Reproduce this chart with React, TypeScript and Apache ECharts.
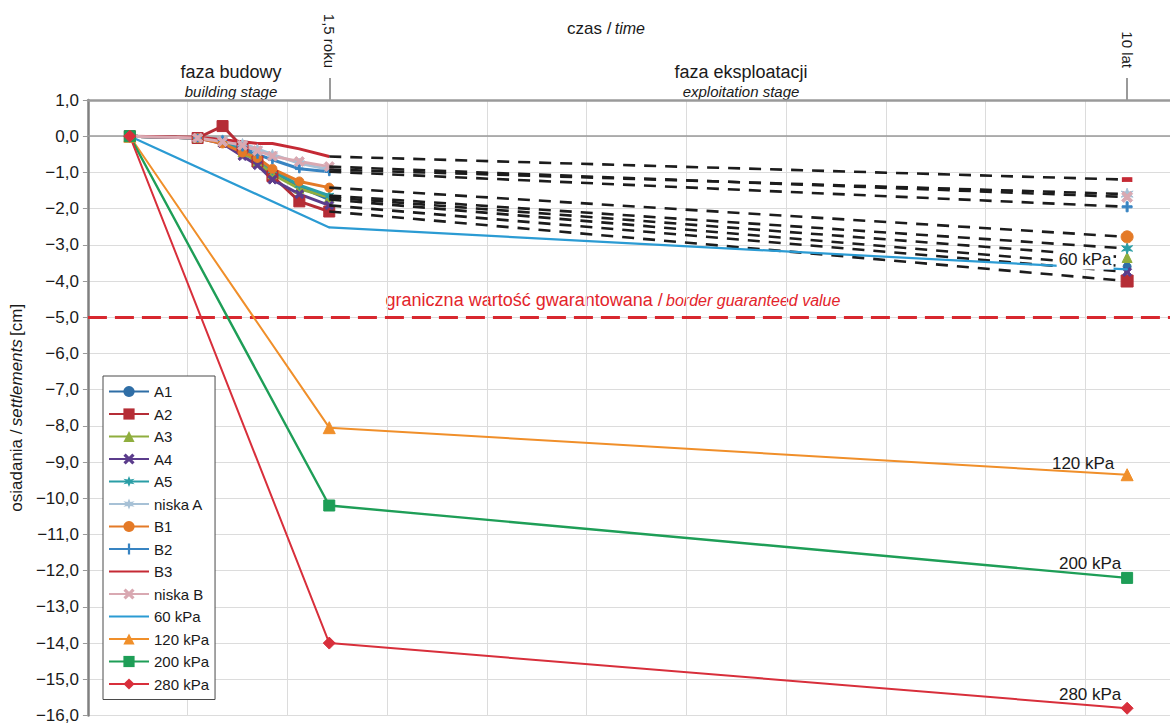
import React, { useEffect, useRef } from 'react';
import * as echarts from 'echarts';

// ---- data ----
// time axis positions (chart units): start, building-stage measurement times, 1,5 roku, 10 lat
const buildTimes = [0.42, 1.1, 1.35, 1.55, 1.7, 1.85, 2.12, 2.42];
const endTime = 10.42;
const stageTicks = [2.42, 10.42];
const stageTickLabels = ['1,5 roku', '10 lat'];

const measuredNames = ['A1', 'A2', 'A3', 'A4', 'A5', 'niska A', 'B1', 'B2', 'B3', 'niska B'];
const A1 = [0, -0.05, -0.15, -0.35, -0.6, -0.95, -1.4, -1.75];
const A2 = [0, -0.05, 0.28, -0.3, -0.7, -1.1, -1.8, -2.08];
const A3 = [0, -0.05, -0.15, -0.45, -0.7, -1.05, -1.45, -1.69];
const A4 = [0, -0.05, -0.2, -0.55, -0.8, -1.2, -1.6, -1.91];
const A5 = [0, -0.05, -0.1, -0.4, -0.6, -0.95, -1.35, -1.64];
const niskaA = [0, -0.05, -0.1, -0.2, -0.35, -0.5, -0.75, -0.92];
const B1 = [0, -0.05, -0.2, -0.45, -0.6, -0.9, -1.25, -1.42];
const B2 = [0, -0.05, -0.1, -0.3, -0.5, -0.65, -0.9, -0.98];
const B3 = [0, -0.03, -0.1, -0.15, -0.2, -0.2, -0.35, -0.56];
const niskaB = [0, -0.05, -0.15, -0.25, -0.4, -0.55, -0.7, -0.84];
const measuredBuild = [A1, A2, A3, A4, A5, niskaA, B1, B2, B3, niskaB];
const measuredAt10 = [-3.6, -4.0, -3.35, -3.75, -3.1, -1.6, -2.78, -1.95, -1.2, -1.68];

const theoryTimes = [0.42, 2.42, 10.42];
const theoryNames = ['60 kPa', '120 kPa', '200 kPa', '280 kPa'];
const kPa60 = [0, -2.52, -3.68];
const kPa120 = [0, -8.05, -9.35];
const kPa200 = [0, -10.2, -12.2];
const kPa280 = [0, -14.0, -15.8];
const theoryValues = [kPa60, kPa120, kPa200, kPa280];

const borderValue = -5;

// ---- styles ----
const FONT = 'Liberation Sans, Arial, Helvetica, sans-serif';
const X_SYM = 'path://M2,0 L5,3 L8,0 L10,2 L7,5 L10,8 L8,10 L5,7 L2,10 L0,8 L3,5 L0,2Z';
const PLUS_SYM = 'path://M4,0H6V4H10V6H6V10H4V6H0V4H4Z';
const STAR_SYM = 'path://M5,0 L6.2,3.3 L9.8,2.5 L7.3,5 L9.8,7.5 L6.2,6.7 L5,10 L3.8,6.7 L0.2,7.5 L2.7,5 L0.2,2.5 L3.8,3.3Z';

const measuredStyle: Record<string, any> = {
  'A1': { color: '#2f6ea6', symbol: 'circle', size: 5, endSymbol: 'circle', endSize: 8 },
  'A2': { color: '#b52d36', symbol: 'rect', size: 11, endSymbol: 'rect', endSize: 12 },
  'A3': { color: '#8fae3e', symbol: 'triangle', size: 9, endSymbol: 'triangle', endSize: 10 },
  'A4': { color: '#5b3c8c', symbol: X_SYM, size: 9, endSymbol: X_SYM, endSize: 9 },
  'A5': { color: '#2a9ea6', symbol: STAR_SYM, size: 9, endSymbol: STAR_SYM, endSize: 11 },
  'niska A': { color: '#a7c1d6', symbol: STAR_SYM, size: 10, endSymbol: STAR_SYM, endSize: 12 },
  'B1': { color: '#e47a27', symbol: 'circle', size: 9, endSymbol: 'circle', endSize: 12 },
  'B2': { color: '#3884c2', symbol: PLUS_SYM, size: 8, endSymbol: PLUS_SYM, endSize: 10 },
  'B3': { color: '#c52a35', symbol: 'none', size: 0, endSymbol: 'rect', endSize: [9, 4], noLegendMark: true },
  'niska B': { color: '#d9a9b2', symbol: X_SYM, size: 10, endSymbol: X_SYM, endSize: 11 },
};

const theoryStyle: Record<string, any> = {
  '60 kPa': { color: '#2b9bd3', symbol: 'circle', size: 1, width: 2.2, label: '60 kPa', offset: [-42, 6], bg: '#fff', noLegendMark: true },
  '120 kPa': { color: '#f08f2a', symbol: 'triangle', size: 12, width: 2, label: '120 kPa', offset: [-44, 9] },
  '200 kPa': { color: '#1e9e57', symbol: 'rect', size: 11, width: 2.4, label: '200 kPa', offset: [-37, 5] },
  '280 kPa': { color: '#d82f3b', symbol: 'diamond', size: 12, width: 2, label: '280 kPa', offset: [-37, 6] },
};

function yFmt(v: number) {
  const s = Math.abs(v).toFixed(1).replace('.', ',');
  return v < 0 ? '\u2212' + s : s;
}

function buildOption() {
  const series: any[] = [];

  measuredNames.forEach((name, i) => {
    const st = measuredStyle[name];
    series.push({
      name,
      type: 'line',
      z: 3,
      symbol: st.symbol,
      symbolSize: st.size,
      lineStyle: { color: st.color, width: 3 },
      itemStyle: { color: st.color, borderColor: st.color },
      emphasis: { disabled: true },
      data: buildTimes.map((t, k) => [t, measuredBuild[i][k]]),
    });
  });

  measuredNames.forEach((name, i) => {
    const st = measuredStyle[name];
    const last = measuredBuild[i][measuredBuild[i].length - 1];
    series.push({
      name: name + ' (prognoza)',
      type: 'line',
      z: 4,
      symbol: st.endSymbol,
      symbolSize: st.endSize,
      lineStyle: { color: '#1c1c1c', width: 2.6, type: [12, 9] },
      itemStyle: { color: st.color, borderColor: st.color },
      emphasis: { disabled: true },
      data: [
        { value: [buildTimes[buildTimes.length - 1], last], symbol: 'none' },
        { value: [endTime, measuredAt10[i]] },
      ],
    });
  });

  theoryNames.forEach((name, i) => {
    const st = theoryStyle[name];
    const vals = theoryValues[i];
    const s: any = {
      name,
      type: 'line',
      z: 5,
      symbol: st.symbol,
      symbolSize: st.size,
      lineStyle: { color: st.color, width: st.width },
      itemStyle: { color: st.color, borderColor: st.color },
      emphasis: { disabled: true },
      data: theoryTimes.map((t, k) => {
        if (k === theoryTimes.length - 1) {
          return {
            value: [t, vals[k]],
            label: {
              show: true,
              formatter: st.label,
              position: 'top',
              offset: st.offset,
              color: '#1a1a1a',
              fontSize: 17,
              fontFamily: FONT,
              backgroundColor: st.bg || 'transparent',
              padding: st.bg ? [1, 2] : 0,
            },
          };
        }
        return [t, vals[k]];
      }),
    };
    if (i === 0) {
      s.markLine = {
        silent: true,
        symbol: 'none',
        z: 2,
        label: { show: false },
        lineStyle: { color: '#d8282f', type: [19, 8], width: 3 },
        data: [{ yAxis: borderValue }],
      };
    }
    series.push(s);
  });

  const legendData = [...measuredNames, ...theoryNames].map((name) => {
    const st = measuredStyle[name] || theoryStyle[name];
    return st.noLegendMark ? { name, itemStyle: { opacity: 0 } } : { name };
  });

  return {
    animation: false,
    textStyle: { fontFamily: FONT },
    grid: { left: 85, right: 0, top: 100, bottom: 5, containLabel: false },
    legend: {
      data: legendData,
      orient: 'vertical',
      left: 103,
      top: 376,
      padding: [8, 6, 8, 5],
      itemWidth: 40,
      itemHeight: 14,
      itemGap: 7.5,
      backgroundColor: '#ffffff',
      borderColor: '#4a4a4a',
      borderWidth: 1,
      selectedMode: false,
      z: 20,
      textStyle: { fontSize: 15, color: '#1a1a1a', fontFamily: FONT, lineHeight: 14 },
    },
    xAxis: [
      {
        type: 'value',
        position: 'bottom',
        min: 0,
        max: 10.85,
        interval: 1,
        axisLine: { show: true, lineStyle: { color: '#9a9a9a', width: 1.5 } },
        axisTick: { show: false },
        axisLabel: { show: false },
        splitLine: { show: true, lineStyle: { color: '#dcdcdc', width: 1 } },
      },
      {
        type: 'value',
        position: 'top',
        min: 0,
        max: 10.85,
        interval: 1,
        axisLine: { show: true, onZero: false, lineStyle: { color: '#9a9a9a', width: 2.5 } },
        axisTick: {
          show: true,
          inside: false,
          length: 22,
          customValues: stageTicks,
          lineStyle: { color: '#9a9a9a', width: 2 },
        },
        axisLabel: {
          show: true,
          customValues: stageTicks,
          rotate: 90,
          margin: 32,
          fontSize: 15,
          color: '#1a1a1a',
          fontFamily: FONT,
          formatter: (v: number) => {
            const idx = stageTicks.findIndex((t) => Math.abs(t - v) < 1e-6);
            return idx >= 0 ? stageTickLabels[idx] : '';
          },
        },
        splitLine: { show: false },
      },
    ],
    yAxis: {
      type: 'value',
      min: -16,
      max: 1,
      interval: 1,
      name: '{n|osiadania /} {i|settlements} {n|[cm]}',
      nameLocation: 'middle',
      nameRotate: 90,
      nameGap: 55,
      nameTextStyle: {
        rich: {
          n: { fontSize: 17, color: '#1a1a1a', fontFamily: FONT },
          i: { fontSize: 17, color: '#1a1a1a', fontFamily: FONT, fontStyle: 'italic' },
        },
      },
      axisLine: { show: true, onZero: false, lineStyle: { color: '#808080', width: 2.5 } },
      axisTick: { show: true, inside: false, length: 5, lineStyle: { color: '#9a9a9a' } },
      axisLabel: { fontSize: 17, color: '#1a1a1a', margin: 9, fontFamily: FONT, formatter: yFmt },
      splitLine: { show: true, lineStyle: { color: '#dcdcdc', width: 1 } },
    },
    graphic: [
      {
        type: 'text',
        x: 606,
        y: 28,
        style: {
          text: '{n|czas /} {i|time}',
          align: 'center',
          verticalAlign: 'middle',
          rich: {
            n: { fontSize: 17, fill: '#1a1a1a', fontFamily: FONT },
            i: { fontSize: 16, fill: '#1a1a1a', fontFamily: FONT, fontStyle: 'italic' },
          },
        },
      },
      {
        type: 'text',
        x: 231,
        y: 72,
        style: { text: 'faza budowy', align: 'center', verticalAlign: 'middle', fontSize: 18, fill: '#1a1a1a', fontFamily: FONT },
      },
      {
        type: 'text',
        x: 231,
        y: 91,
        style: { text: 'building stage', align: 'center', verticalAlign: 'middle', fontSize: 15, fontStyle: 'italic', fill: '#1a1a1a', fontFamily: FONT },
      },
      {
        type: 'text',
        x: 741,
        y: 72,
        style: { text: 'faza eksploatacji', align: 'center', verticalAlign: 'middle', fontSize: 18, fill: '#1a1a1a', fontFamily: FONT },
      },
      {
        type: 'text',
        x: 741,
        y: 91,
        style: { text: 'exploitation stage', align: 'center', verticalAlign: 'middle', fontSize: 15, fontStyle: 'italic', fill: '#1a1a1a', fontFamily: FONT },
      },
      {
        type: 'text',
        x: 613,
        y: 300,
        style: {
          text: '{n|graniczna wartość gwarantowana /} {i|border guaranteed value}',
          align: 'center',
          verticalAlign: 'middle',
          rich: {
            n: { fontSize: 18, fill: '#e3242b', fontFamily: FONT },
            i: { fontSize: 16, fill: '#e3242b', fontFamily: FONT, fontStyle: 'italic' },
          },
        },
      },
    ],
    series,
  };
}

export default function App() {
  const ref = useRef<HTMLDivElement>(null);
  useEffect(() => {
    if (!ref.current) return;
    const chart = echarts.init(ref.current, null, { renderer: 'svg' });
    chart.setOption(buildOption() as any);
    return () => chart.dispose();
  }, []);
  return (
    <div
      ref={ref}
      style={{ position: 'fixed', left: 0, top: 0, width: 1170, height: 724, background: '#ffffff' }}
    />
  );
}
